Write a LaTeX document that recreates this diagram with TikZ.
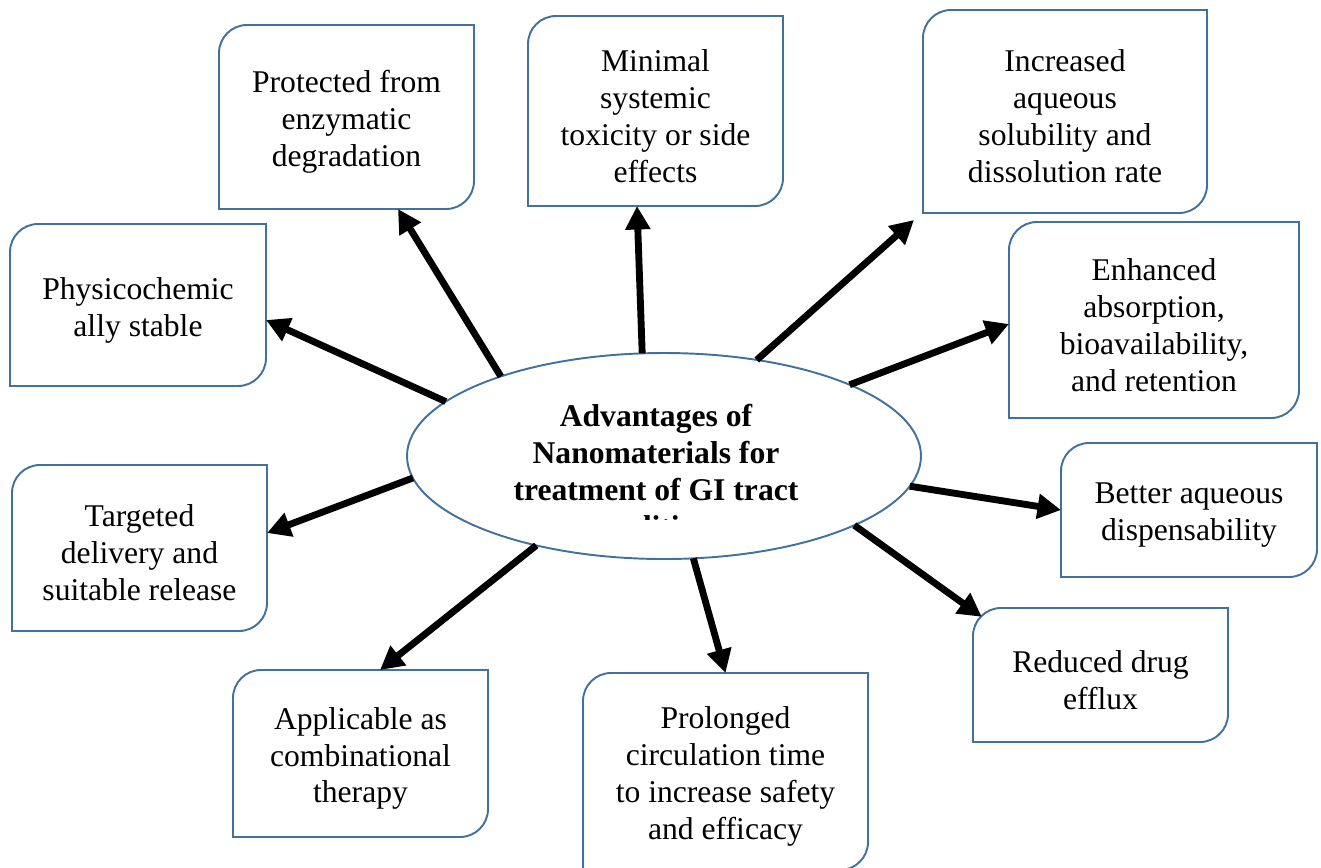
\documentclass[tikz,border=0pt]{standalone}
\usepackage{fontspec}
\setmainfont{Liberation Serif}
\usetikzlibrary{shapes.geometric,arrows.meta}
\definecolor{outl}{RGB}{65,113,156}
\tikzset{
  bshape/.style={inner sep=0pt, outer sep=0pt},
  btext/.style={inner sep=0pt, outer sep=0pt, align=center, font=\fontsize{18}{21}\selectfont},
  bline/.style={draw=outl, line width=1.1pt},
  ctext/.style={inner sep=0pt, align=center, font=\fontsize{18}{21}\selectfont\bfseries},
  ellstyle/.style={ellipse, draw=outl, line width=1.1pt, inner sep=0pt, outer sep=0pt},
  arr/.style={line width=3.9pt, -{Triangle[length=0.47cm,width=0.48cm]}}
}
\newcommand\mybox[6]{%
  \node[bshape, minimum width=#4*0.02cm, minimum height=#5*0.02cm] (#1) at (#2,#3) {};
  \node[btext] (#1t) at ([yshift=-0.1cm]#1.center) {#6};
  \draw[bline] ([yshift=-0.56cm]#1.north west) arc[start angle=180,end angle=90,radius=0.56cm]
    -- (#1.north east) -- ([yshift=0.56cm]#1.south east) arc[start angle=0,end angle=-90,radius=0.56cm]
    -- (#1.south west) -- cycle;}
\begin{document}
\begin{tikzpicture}[x=0.02cm,y=-0.02cm]
\useasboundingbox (0,0) rectangle (1321,867);
\mybox{prot}{346.5}{117}{255}{184}{Protected from\\enzymatic\\degradation}
\mybox{mini}{655.5}{111}{255}{190}{Minimal\\systemic\\toxicity or side\\effects}
\mybox{incr}{1065}{111.5}{284}{203}{Increased\\aqueous\\solubility and\\dissolution rate}
\mybox{enh}{1154}{320}{290}{196}{Enhanced\\absorption,\\bioavailability,\\and retention}
\mybox{bett}{1189}{510}{256}{134}{Better aqueous\\dispensability}
\mybox{redu}{1100.5}{675}{255}{134}{Reduced drug\\efflux}
\mybox{prol}{725.5}{771.5}{285}{197}{Prolonged\\circulation time\\to increase safety\\and efficacy}
\mybox{appl}{360.5}{753.5}{255}{167}{Applicable as\\combinational\\therapy}
\mybox{targ}{139.5}{548}{255}{166}{Targeted\\delivery and\\suitable release}
\mybox{phys}{138}{305}{256}{162}{Physicochemic\\ally stable}
\node[ellstyle, minimum width=514*0.02cm, minimum height=206*0.02cm] (ell) at (664,456) {};
\begin{scope}
  \clip (400,380) rectangle (930,519);
  \node[ctext] (ctitle) at (656,471) {Advantages of\\Nanomaterials for\\treatment of GI tract\\conditions};
\end{scope}
\coordinate (t1) at ([xshift=1.03cm]prot.south);
\coordinate (t2) at ([yshift=-0.3cm]phys.east);
\coordinate (t3) at ([xshift=-0.37cm]mini.south);
\coordinate (t4) at ([xshift=-0.18cm,yshift=-0.14cm]incr.south west);
\coordinate (t5) at ([yshift=-0.08cm]enh.west);
\coordinate (t6) at (bett.west);
\coordinate (t7) at ([xshift=0.176cm,yshift=-0.176cm]redu.north west);
\coordinate (t8) at (prol.north);
\coordinate (t9) at ([xshift=0.39cm]appl.north);
\coordinate (t10) at ([yshift=0.3cm]targ.east);
\draw[arr] (ell.154.3) -- (t1);
\draw[arr] (ell.166.9) -- (t2);
\draw[arr] (ell.102.1) -- (t3);
\draw[arr] (ell.46.8) -- (t4);
\draw[arr] (ell.21.7) -- (t5);
\draw[arr] (ell.-7.8) -- (t6);
\draw[arr] (ell.-20.5) -- (t7);
\draw[arr] (ell.-74.8) -- (t8);
\draw[arr] (ell.215.3) -- (t9);
\draw[arr] (ell.185.9) -- (t10);
\end{tikzpicture}
\end{document}
